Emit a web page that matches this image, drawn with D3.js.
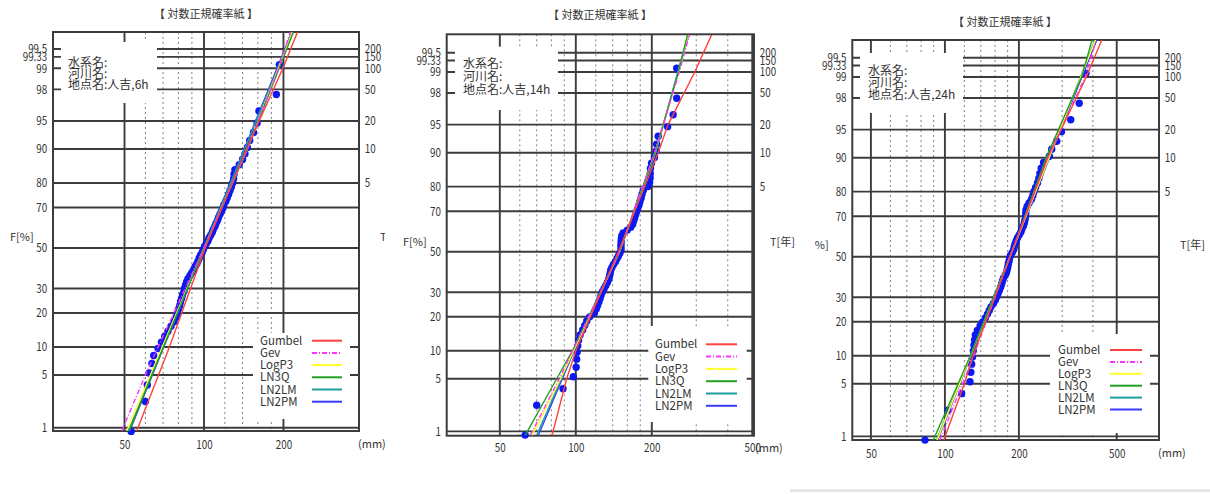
<!DOCTYPE html>
<html>
<head>
<meta charset="utf-8">
<script src="https://cdn.jsdelivr.net/npm/d3@7"></script>
<style>
  body { margin: 0; background: #fff; }
  svg { display: block; }
  text { font-family: "Noto Sans CJK JP", "Noto Sans", sans-serif; fill: #333; }
</style>
</head>
<body>
<svg id="chart" width="1210" height="494"></svg>
<script>
// probability levels (non-exceedance %) and return periods
var fLevels = [1, 5, 10, 20, 30, 50, 70, 80, 90, 95, 98, 99, 99.333, 99.5];
var fLabels = ["1", "5", "10", "20", "30", "50", "70", "80", "90", "95", "98", "99", "99.33", "99.5"];
var tLevels = [80, 90, 95, 98, 99, 99.333, 99.5];
var tLabels = ["5", "10", "20", "50", "100", "150", "200"];

var fitNames = ["Gumbel", "Gev", "LogP3", "LN3Q", "LN2LM", "LN2PM"];
var fitColors = ["#ff4040", "#ff33ff", "#ffff2a", "#22a022", "#1f9f9f", "#3a3aff"];

// annual maximum rainfall (mm), sorted
var rain6h = [53, 60, 61, 62, 63.5, 64.5, 67, 69, 71, 73, 75, 77, 78.5, 79.5, 80, 81, 81.5, 82.3,
  83, 84, 84.5, 85.2, 86, 87, 88.5, 90, 91.5, 92.5, 94, 95, 96, 97, 98.5, 99.5, 100.5, 102,
  103.5, 104.5, 106, 107.5, 108.5, 110, 111, 112.5, 113.5, 115, 116.5, 118, 119, 121, 122.5, 124,
  125.5, 127, 128.5, 129.5, 130, 131, 136, 140, 143, 146, 149, 154, 159, 161.5, 188, 193];

var rain14h = [63, 70, 89, 97.8, 100.3, 100.8, 101.2, 101.8, 102.6, 104, 106.5, 108.5, 110.5, 113.5,
  118.5, 120.5, 122, 123.5, 124.8, 126, 127.5, 129.5, 131.5, 133.5, 135, 136, 136.8, 137.5, 139,
  141, 143.5, 145.5, 147.5, 149.5, 151, 151, 151, 151.2, 151.5, 152, 154, 160, 165, 168, 169.5,
  171, 172.5, 174, 176, 178, 179.5, 181.5, 183, 185, 193, 196, 197, 197.2, 197.5, 199.5, 205, 208,
  209, 212, 231, 243, 251, 251];

var rain24h = [83, 103, 117, 126.5, 127.5, 128.5, 129.5, 130.5, 131.3, 132, 133, 135.5, 139, 142.5,
  146, 149, 151.5, 154, 157.5, 160.5, 162.5, 164.5, 166.5, 168.5, 170, 171.5, 173, 176, 178, 179.3,
  180.3, 181.2, 182.5, 183.3, 185, 188, 190.5, 191.5, 193, 195, 197.2, 200.5, 203.5, 205.5, 208.5,
  210.5, 211.8, 212.8, 213.2, 213.6, 216, 220, 225, 228, 230.5, 234, 238, 241, 243.5, 246.5, 252,
  266, 272, 285, 298, 325, 352, 375];

// fitted curves: [F %, mm], in fitNames order
var fit6h = [
  [[0.89, 55.6], [10, 74], [50, 101], [90, 145], [99, 199], [99.74, 226]],
  [[0.89, 48.8], [5, 60], [10, 67], [50, 100], [90, 146], [99, 192], [99.74, 212]],
  [[0.89, 51], [50, 100], [90, 146], [99.74, 216]],
  [[0.89, 52], [50, 100], [90, 146], [99.74, 218]],
  [[0.89, 51.7], [50, 100], [99.74, 217]],
  [[0.89, 52.3], [50, 100], [99.74, 215]]
];
var fit14h = [
  [[0.87, 80.5], [5, 92], [10, 100], [50, 147.5], [90, 212], [95, 232], [99, 296], [99.75, 345]],
  [[0.87, 66], [5, 86], [10, 97], [50, 149], [90, 205], [99, 257], [99.75, 282]],
  [[0.87, 67], [5, 87], [10, 98], [50, 149], [90, 206], [99, 256], [99.75, 279]],
  [[0.87, 63], [5, 84], [10, 97], [50, 149], [90, 206], [99, 255], [99.75, 277]],
  [[0.87, 70], [10, 98], [50, 149], [90, 207], [99.75, 278]],
  [[0.87, 71], [10, 98.5], [50, 149], [90, 207], [99.75, 280]]
];
var fit24h = [
  [[0.88, 99], [5, 120], [10, 130], [50, 184], [90, 262], [99, 376], [99.75, 435]],
  [[0.88, 95.5], [10, 131], [50, 184], [90, 262], [99, 372], [99.75, 413]],
  [[0.88, 93], [50, 184], [99.75, 410]],
  [[0.88, 89.7], [10, 127], [50, 184], [90, 258], [99, 360], [99.75, 397]],
  [[0.88, 92.5], [50, 184], [99.75, 408]],
  [[0.88, 93.5], [50, 184], [99.75, 415]]
];

var panels = [
  { site: "地点名:人吉,6h", data: rain6h, fits: fit6h,
    left: 53, right: 359, top: 32, bottom: 431, xmin: 26.8, xmax: 386.5, zBot: -2.369, zTop: 2.796,
    solid: [50, 100, 200], dotted: [60, 70, 80, 90, 120, 140, 160, 180], ticks: [50, 100, 200],
    crop: [0, 385], box: [61, 42, 157, 103], textX: 68, textY: [62.3, 73.5, 85],
    legend: [253, 333, 350, 419], legX: 260, legLine: [312, 342], legY: 340.7, legDy: 12.2,
    title: [206, 14], pad: 9, mm: [358, 444], fLab: [10, 237], tLab: [380, 237] },
  { site: "地点名:人吉,14h", data: rain14h, fits: fit14h,
    left: 446.7, right: 754, top: 34.3, bottom: 435.7, xmin: 30.8, xmax: 508, zBot: -2.382, zTop: 2.814,
    solid: [50, 100, 200, 500], dotted: [60, 70, 80, 90, 120, 140, 160, 180, 300, 400], ticks: [50, 100, 200, 500],
    crop: [395, 800], box: [455, 46.7, 558, 110], textX: 463, textY: [64, 76.5, 90],
    legend: [648.3, 326, 746.7, 422], legX: 655, legLine: [706, 737], legY: 344.3, legDy: 12.3,
    title: [600, 15], pad: 8, mm: [755, 447.7], fLab: [403, 242], tLab: [770, 242] },
  { site: "地点名:人吉,24h", data: rain24h, fits: fit24h,
    left: 852.3, right: 1159, top: 40, bottom: 440, xmin: 42, xmax: 743, zBot: -2.373, zTop: 2.805,
    solid: [50, 100, 200, 500], dotted: [60, 70, 80, 90, 120, 140, 160, 180, 300, 400], ticks: [50, 100, 200, 500],
    crop: [815, 1210], box: [860, 53, 963, 113], textX: 868, textY: [71, 82.5, 94.5],
    legend: [1050, 334, 1150, 433], legX: 1058, legLine: [1110, 1142], legY: 350, legDy: 11.9,
    title: [1005, 21.7], pad: 9, mm: [1158, 452.7], fLab: [805, 245], tLab: [1180, 245] }
];

// inverse standard normal CDF (Acklam)
function probit(p) {
  var a = [-3.969683028665376e+01, 2.209460984245205e+02, -2.759285104469687e+02, 1.383577518672690e+02, -3.066479806614716e+01, 2.506628277459239e+00];
  var b = [-5.447609879822406e+01, 1.615858368580409e+02, -1.556989798598866e+02, 6.680131188771972e+01, -1.328068155288572e+01];
  var c = [-7.784894002430293e-03, -3.223964580411365e-01, -2.400758277161838e+00, -2.549732539343734e+00, 4.374664141464968e+00, 2.938163982699783e+00];
  var d = [7.784695709041462e-03, 3.224671290700398e-01, 2.445134137142996e+00, 3.754408661907416e+00];
  var q, r;
  if (p < 0.02425) {
    q = Math.sqrt(-2 * Math.log(p));
    return (((((c[0]*q+c[1])*q+c[2])*q+c[3])*q+c[4])*q+c[5]) / ((((d[0]*q+d[1])*q+d[2])*q+d[3])*q+1);
  }
  if (p <= 1 - 0.02425) {
    q = p - 0.5; r = q * q;
    return (((((a[0]*r+a[1])*r+a[2])*r+a[3])*r+a[4])*r+a[5])*q / (((((b[0]*r+b[1])*r+b[2])*r+b[3])*r+b[4])*r+1);
  }
  q = Math.sqrt(-2 * Math.log(1 - p));
  return -(((((c[0]*q+c[1])*q+c[2])*q+c[3])*q+c[4])*q+c[5]) / ((((d[0]*q+d[1])*q+d[2])*q+d[3])*q+1);
}

var svg = d3.select("#chart");
var defs = svg.append("defs");
var gridColor = "#3c3c3c";

svg.append("rect").attr("x", 790).attr("y", 489).attr("width", 420).attr("height", 3).attr("fill", "#e6e6e6");

panels.forEach(function(p, k) {
  defs.append("clipPath").attr("id", "crop" + k).append("rect")
    .attr("x", p.crop[0]).attr("y", 0).attr("width", p.crop[1] - p.crop[0]).attr("height", 488);
  defs.append("clipPath").attr("id", "frame" + k).append("rect")
    .attr("x", p.left).attr("y", p.top).attr("width", p.right - p.left).attr("height", p.bottom - p.top);

  var g = svg.append("g").attr("clip-path", "url(#crop" + k + ")");

  var x = d3.scaleLog().domain([p.xmin, p.xmax]).range([p.left, p.right]);
  var y = d3.scaleLinear().domain([p.zBot, p.zTop]).range([p.bottom, p.top]);
  var yF = function(f) { return y(probit(f / 100)); };

  // dotted verticals
  g.append("g").selectAll("line").data(p.dotted).join("line")
    .attr("x1", d => x(d)).attr("x2", d => x(d))
    .attr("y1", p.top).attr("y2", p.bottom)
    .attr("stroke", "#808080").attr("stroke-width", 1).attr("stroke-dasharray", "2,3");

  // solid verticals
  g.append("g").selectAll("line").data(p.solid).join("line")
    .attr("x1", d => x(d)).attr("x2", d => x(d))
    .attr("y1", p.top).attr("y2", p.bottom)
    .attr("stroke", gridColor).attr("stroke-width", 1.9);

  // horizontals
  g.append("g").selectAll("line").data(fLevels).join("line")
    .attr("x1", p.left).attr("x2", p.right)
    .attr("y1", d => yF(d)).attr("y2", d => yF(d))
    .attr("stroke", gridColor).attr("stroke-width", 1.9);

  // frame
  g.append("rect")
    .attr("x", p.left).attr("y", p.top)
    .attr("width", p.right - p.left).attr("height", p.bottom - p.top)
    .attr("fill", "none").attr("stroke", gridColor).attr("stroke-width", 2);

  // info box
  g.append("rect")
    .attr("x", p.box[0]).attr("y", p.box[1])
    .attr("width", p.box[2] - p.box[0]).attr("height", p.box[3] - p.box[1])
    .attr("fill", "#fff");
  ["水系名:", "河川名:", p.site].forEach(function(s, i) {
    g.append("text").attr("x", p.textX).attr("y", p.textY[i]).attr("dy", "0.35em")
      .style("font-size", "12px").text(s);
  });

  // legend
  g.append("rect")
    .attr("x", p.legend[0]).attr("y", p.legend[1])
    .attr("width", p.legend[2] - p.legend[0]).attr("height", p.legend[3] - p.legend[1])
    .attr("fill", "#fff");
  var leg = g.append("g").selectAll("g").data(fitNames).join("g")
    .attr("transform", (d, i) => "translate(0," + (p.legY + i * p.legDy) + ")");
  leg.append("text").attr("x", p.legX).attr("dy", "0.35em")
    .style("font-size", "11.5px").text(d => d);
  leg.append("line").attr("x1", p.legLine[0]).attr("x2", p.legLine[1])
    .attr("stroke", (d, i) => fitColors[i]).attr("stroke-width", 2)
    .attr("stroke-dasharray", (d, i) => i === 1 ? "5,2,1,2" : null);

  // plotted sample (Cunnane plotting position)
  var n = p.data.length;
  g.append("g").selectAll("circle").data(p.data).join("circle")
    .attr("cx", d => x(d))
    .attr("cy", (d, i) => yF(100 * (i + 1 - 0.4) / (n + 0.2)))
    .attr("r", 3.7)
    .attr("fill", "#0d18f2");

  // fitted curves
  var line = d3.line().x(d => x(d[1])).y(d => yF(d[0]));
  var order = [5, 4, 2, 3, 1, 0];
  g.append("g").attr("clip-path", "url(#frame" + k + ")")
    .selectAll("path").data(order).join("path")
    .attr("d", i => line(p.fits[i]))
    .attr("fill", "none")
    .attr("stroke", i => fitColors[i])
    .attr("stroke-width", 1.4)
    .attr("stroke-dasharray", i => i === 1 ? "5,2,1,2" : null);

  // axes
  var ax = g.append("g").attr("transform", "translate(" + p.left + ",0)")
    .call(d3.axisLeft(y).tickValues(fLevels.map(f => probit(f / 100)))
      .tickFormat((d, i) => fLabels[i]).tickSize(0).tickPadding(7));
  var ar = g.append("g").attr("transform", "translate(" + p.right + ",0)")
    .call(d3.axisRight(y).tickValues(tLevels.map(f => probit(f / 100)))
      .tickFormat((d, i) => tLabels[i]).tickSize(0).tickPadding(7));
  var ab = g.append("g").attr("transform", "translate(0," + p.bottom + ")")
    .call(d3.axisBottom(x).tickValues(p.ticks).tickFormat(d3.format("d"))
      .tickSize(0).tickPadding(p.pad));
  [ax, ar, ab].forEach(function(a) {
    a.select(".domain").remove();
    a.attr("font-family", null).attr("font-size", null);
    a.selectAll("text").style("font-size", "12px").attr("fill", "#3c3c3c")
      .attr("transform", "scale(0.82,1)");
  });

  g.append("text").attr("x", p.mm[0]).attr("y", p.mm[1]).attr("dy", "0.35em")
    .style("font-size", "11px").text("(mm)");
  g.append("text").attr("x", p.fLab[0]).attr("y", p.fLab[1]).attr("dy", "0.35em")
    .style("font-size", "11px").text("F[%]");
  g.append("text").attr("x", p.tLab[0]).attr("y", p.tLab[1]).attr("dy", "0.35em")
    .style("font-size", "11px").text("T[年]");
  g.append("text").attr("x", p.title[0]).attr("y", p.title[1]).attr("dy", "0.35em")
    .attr("text-anchor", "middle").style("font-size", "11px").text("【 対数正規確率紙 】");
});
</script>
</body>
</html>
